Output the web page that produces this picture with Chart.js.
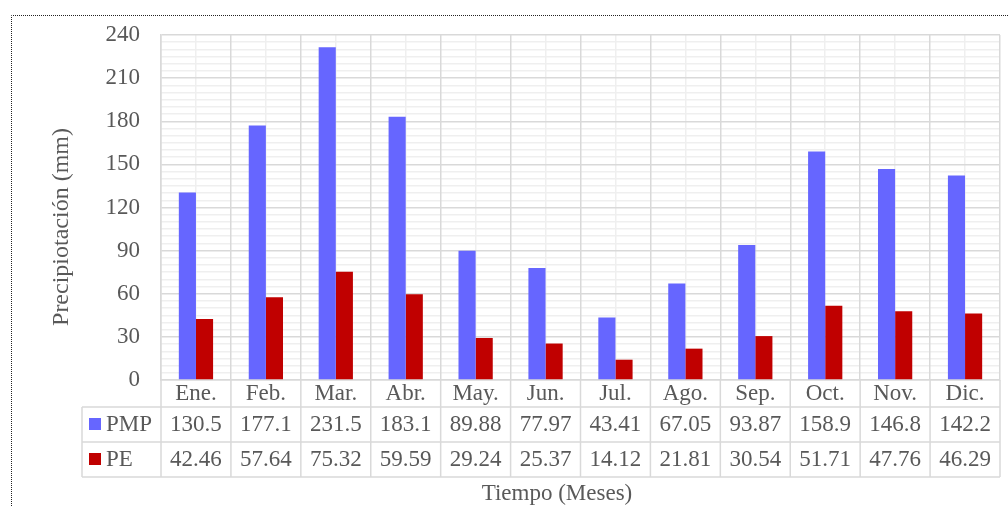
<!DOCTYPE html>
<html>
<head>
<meta charset="utf-8">
<script src="https://cdn.jsdelivr.net/npm/chart.js@4/dist/chart.umd.min.js"></script>
<style>
  body { margin: 0; background: #fff; }
  canvas { display: block; }
</style>
</head>
<body>
<canvas id="lluviaChart" width="1008" height="506"></canvas>
<script>
const meses = ['Ene.', 'Feb.', 'Mar.', 'Abr.', 'May.', 'Jun.', 'Jul.', 'Ago.', 'Sep.', 'Oct.', 'Nov.', 'Dic.'];
const pmp = [130.5, 177.1, 231.5, 183.1, 89.88, 77.97, 43.41, 67.05, 93.87, 158.9, 146.8, 142.2];
const pe = [42.46, 57.64, 75.32, 59.59, 29.24, 25.37, 14.12, 21.81, 30.54, 51.71, 47.76, 46.29];
const pmpTxt = ['130.5', '177.1', '231.5', '183.1', '89.88', '77.97', '43.41', '67.05', '93.87', '158.9', '146.8', '142.2'];
const peTxt = ['42.46', '57.64', '75.32', '59.59', '29.24', '25.37', '14.12', '21.81', '30.54', '51.71', '47.76', '46.29'];

const fuente = '"Liberation Serif", "Times New Roman", serif';
const gris = '#d9d9d9';
const texto = '#595959';

// tabla de datos bajo el eje x + titulos + borde punteado
const tablaPlugin = {
    id: 'tabla',
    afterDraw(chart) {
        const ctx = chart.ctx;
        const x = chart.scales.x;
        const area = chart.chartArea;
        const paso = x.getPixelForValue(1) - x.getPixelForValue(0);
        const legIzq = 82;
        const filas = [area.bottom, 407, 442, 477];
        ctx.save();
        ctx.strokeStyle = gris;
        ctx.lineWidth = 1.5;
        ctx.beginPath();
        for (let i = 0; i <= meses.length; i++) {
            const px = x.getPixelForValue(i) - paso / 2;
            ctx.moveTo(px, filas[0]);
            ctx.lineTo(px, filas[3]);
        }
        ctx.moveTo(legIzq, filas[1]);
        ctx.lineTo(legIzq, filas[3]);
        for (let r = 1; r < filas.length; r++) {
            ctx.moveTo(legIzq, filas[r]);
            ctx.lineTo(area.right, filas[r]);
        }
        ctx.stroke();

        ctx.fillStyle = texto;
        ctx.font = '23px ' + fuente;
        ctx.textAlign = 'center';
        ctx.textBaseline = 'middle';
        meses.forEach((m, i) => {
            const cx = x.getPixelForValue(i);
            ctx.fillText(m, cx, 394);
            ctx.fillText(pmpTxt[i], cx, 425);
            ctx.fillText(peTxt[i], cx, 460);
        });

        ctx.textAlign = 'left';
        ctx.fillStyle = '#6666ff';
        ctx.fillRect(89, 418, 12, 12);
        ctx.fillStyle = '#c00000';
        ctx.fillRect(89, 453, 12, 12);
        ctx.fillStyle = texto;
        ctx.fillText('PMP', 106, 425);
        ctx.fillText('PE', 106, 460);

        ctx.textAlign = 'center';
        ctx.fillText('Tiempo (Meses)', 557, 494);

        ctx.font = '24px ' + fuente;
        ctx.translate(62, 227);
        ctx.rotate(-Math.PI / 2);
        ctx.fillText('Precipiotación (mm)', 0, 0);
        ctx.setTransform(1, 0, 0, 1, 0, 0);

        ctx.strokeStyle = '#222';
        ctx.lineWidth = 1;
        ctx.setLineDash([1, 1]);
        ctx.beginPath();
        ctx.moveTo(11.5, 506);
        ctx.lineTo(11.5, 15.5);
        ctx.lineTo(1008, 15.5);
        ctx.stroke();
        ctx.restore();
    }
};

const data = {
    labels: meses,
    datasets: [{
        label: 'PMP',
        backgroundColor: '#6666ff',
        data: pmp,
        xAxisID: 'x',
        yAxisID: 'y'
    }, {
        label: 'PE',
        backgroundColor: '#c00000',
        data: pe,
        xAxisID: 'x',
        yAxisID: 'y'
    }]
};

const config = {
    type: 'bar',
    data: data,
    options: {
        responsive: false,
        animation: false,
        layout: { padding: { left: 0, top: 35, right: 8, bottom: 126 } },
        datasets: { bar: { categoryPercentage: 0.49, barPercentage: 1.0 } },
        plugins: { legend: { display: false }, tooltip: { enabled: false } },
        scales: {
            x2: {
                type: 'category',
                labels: meses,
                position: 'bottom',
                offset: true,
                ticks: { display: false },
                border: { display: false },
                grid: { offset: false, color: '#efefef', lineWidth: 1.5, drawTicks: false },
                afterFit(s) { s.height = 0; }
            },
            y2: {
                position: 'left',
                min: 0,
                max: 240,
                ticks: { display: false, stepSize: 5 },
                border: { display: false },
                grid: {
                    drawTicks: false,
                    lineWidth: 1.5,
                    color: c => (c.tick && c.tick.value % 30 === 0) ? 'rgba(0,0,0,0)' : '#efefef'
                },
                afterFit(s) { s.width = 0; }
            },
            x: {
                position: 'bottom',
                offset: true,
                ticks: { display: false },
                border: { color: gris, width: 1.5 },
                grid: { offset: true, color: gris, lineWidth: 1.5, drawTicks: false },
                afterFit(s) { s.height = 0; }
            },
            y: {
                position: 'left',
                min: 0,
                max: 240,
                ticks: {
                    stepSize: 30,
                    padding: 21,
                    color: texto,
                    font: { family: fuente, size: 23 }
                },
                border: { color: gris, width: 1.5 },
                grid: { color: gris, lineWidth: 1.5, drawTicks: false },
                afterFit(s) { s.width = 161; }
            }
        }
    },
    plugins: [tablaPlugin]
};

const lluviaChart = new Chart(document.getElementById('lluviaChart'), config);
</script>
</body>
</html>
